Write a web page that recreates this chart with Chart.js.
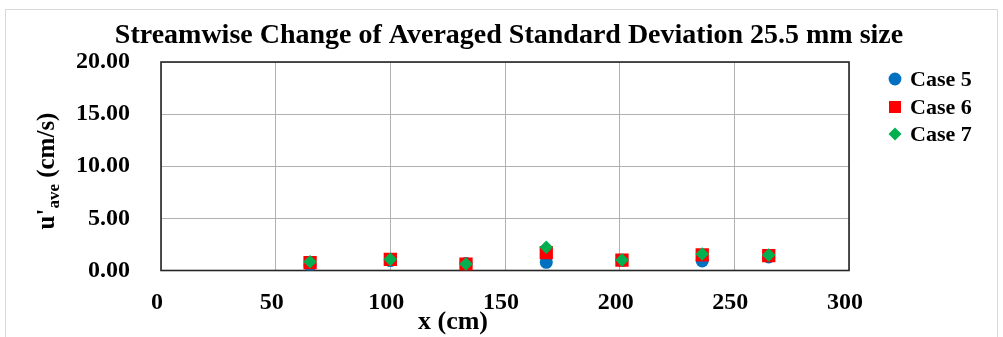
<!DOCTYPE html>
<html>
<head>
<meta charset="utf-8">
<script src="https://cdn.jsdelivr.net/npm/chart.js@4.4.1/dist/chart.umd.min.js"></script>
<style>
  html, body { margin: 0; padding: 0; background: #ffffff; }
  #wrap { width: 1003px; height: 337px; }
</style>
</head>
<body>
<div id="wrap"><canvas id="c" width="1003" height="337"></canvas></div>
<script>
// Streamwise position of each measuring station (cm)
const xPositions = [65, 100, 133, 168, 201, 236, 265];
// Averaged standard deviation u'ave (cm/s) per case
const case5 = [0.50, 0.95, 0.68, 0.78, 0.98, 0.91, 1.30];
const case6 = [0.75, 1.07, 0.62, 1.71, 1.00, 1.49, 1.42];
const case7 = [0.84, 1.07, 0.62, 2.23, 1.00, 1.58, 1.49];
const seriesNames = ['Case 5', 'Case 6', 'Case 7'];
const xTickValues = [0, 50, 100, 150, 200, 250, 300];
const yTickValues = [0, 5, 10, 15, 20];
const chartTitle = 'Streamwise Change of Averaged Standard Deviation 25.5 mm size';

const SERIF = '"Liberation Serif", "Times New Roman", serif';
const colors = ['#0070C0', '#FF0000', '#00B050'];
const styles = ['circle', 'rect', 'rectRot'];
const radii = [6.5, 9.4, 6.8];

const toPoints = (ys) => xPositions.map((x, i) => ({ x: x, y: ys[i] }));
const seriesValues = [case5, case6, case7];

const datasets = seriesValues.map((vals, i) => ({
  label: seriesNames[i],
  data: toPoints(vals),
  showLine: false,
  pointStyle: styles[i],
  pointRadius: radii[i],
  pointHoverRadius: radii[i],
  pointBackgroundColor: colors[i],
  pointBorderColor: colors[i],
  pointBorderWidth: 0,
  order: 3 - i
}));

// Chart title, area outline, outer frame, axis titles and legend
const decor = {
  id: 'decor',
  beforeDraw(chart) {
    const ctx = chart.ctx;
    ctx.save();
    ctx.fillStyle = '#ffffff';
    ctx.fillRect(0, 0, chart.width, chart.height);
    ctx.strokeStyle = '#d9d9d9';
    ctx.lineWidth = 1;
    ctx.beginPath();
    ctx.moveTo(5.5, 340);
    ctx.lineTo(5.5, 9.5);
    ctx.lineTo(997.5, 9.5);
    ctx.lineTo(997.5, 340);
    ctx.stroke();
    ctx.restore();
  },
  beforeDatasetsDraw(chart) {
    const ctx = chart.ctx;
    const a = chart.chartArea;
    ctx.save();
    ctx.strokeStyle = '#262626';
    ctx.lineWidth = 1.6;
    ctx.strokeRect(a.left, a.top, a.right - a.left, a.bottom - a.top);
    ctx.restore();
  },
  afterDraw(chart) {
    const ctx = chart.ctx;
    ctx.save();
    ctx.fillStyle = '#000000';

    // chart title
    ctx.font = 'bold 28px ' + SERIF;
    ctx.textAlign = 'center';
    ctx.textBaseline = 'middle';
    ctx.fillText(chartTitle, 509, 36);

    // x axis title
    ctx.font = 'bold 26px ' + SERIF;
    ctx.fillText('x (cm)', 453, 322);

    // y axis title with subscript
    ctx.translate(54, 171);
    ctx.rotate(-Math.PI / 2);
    const mainFont = 'bold 25px ' + SERIF;
    const subFont = 'bold 17px ' + SERIF;
    ctx.textAlign = 'left';
    ctx.textBaseline = 'alphabetic';
    ctx.font = mainFont;
    const wU = ctx.measureText("u'").width;
    const wRest = ctx.measureText(' (cm/s)').width;
    ctx.font = subFont;
    const wSub = ctx.measureText('ave').width;
    const x0 = -(wU + wSub + wRest) / 2;
    ctx.font = mainFont;
    ctx.fillText("u'", x0, 0);
    ctx.font = subFont;
    ctx.fillText('ave', x0 + wU, 5);
    ctx.font = mainFont;
    ctx.fillText(' (cm/s)', x0 + wU + wSub, 0);
    ctx.setTransform(1, 0, 0, 1, 0, 0);

    // legend
    const rows = [79, 107, 134];
    const mx = 895;
    ctx.font = 'bold 22px ' + SERIF;
    ctx.textBaseline = 'middle';
    ctx.textAlign = 'left';
    seriesNames.forEach((name, i) => {
      const y = rows[i];
      ctx.fillStyle = colors[i];
      ctx.beginPath();
      if (styles[i] === 'circle') {
        ctx.arc(mx, y, 6.4, 0, Math.PI * 2);
      } else if (styles[i] === 'rect') {
        ctx.rect(mx - 6, y - 6, 12, 12);
      } else {
        ctx.moveTo(mx - 6.5, y);
        ctx.lineTo(mx, y - 6.5);
        ctx.lineTo(mx + 6.5, y);
        ctx.lineTo(mx, y + 6.5);
        ctx.closePath();
      }
      ctx.fill();
      ctx.fillStyle = '#000000';
      ctx.fillText(name, 910, y + 1);
    });
    ctx.restore();
  }
};

new Chart(document.getElementById('c'), {
  type: 'scatter',
  data: { datasets: datasets },
  plugins: [decor],
  options: {
    responsive: false,
    animation: false,
    events: [],
    layout: { padding: { left: 0, right: 154, top: 62, bottom: 0 } },
    plugins: {
      legend: { display: false },
      tooltip: { enabled: false },
      title: { display: false }
    },
    scales: {
      x: {
        type: 'linear',
        min: xTickValues[0],
        max: xTickValues[xTickValues.length - 1],
        afterBuildTicks(scale) { scale.ticks = xTickValues.map(v => ({ value: v })); },
        afterFit(scale) { scale.height = 66.5; },
        grid: { color: '#b0b0b0', lineWidth: 1, drawTicks: false },
        border: { display: false },
        ticks: {
          color: '#000000',
          font: { family: SERIF, size: 24, weight: 'bold' },
          padding: 18,
          labelOffset: -4,
          maxRotation: 0
        }
      },
      y: {
        type: 'linear',
        min: yTickValues[0],
        max: yTickValues[yTickValues.length - 1],
        afterBuildTicks(scale) { scale.ticks = yTickValues.map(v => ({ value: v })); },
        afterFit(scale) { scale.width = 161; },
        grid: { color: '#b0b0b0', lineWidth: 1, drawTicks: false },
        border: { display: false },
        ticks: {
          color: '#000000',
          font: { family: SERIF, size: 24, weight: 'bold' },
          padding: 31,
          callback: (v) => Number(v).toFixed(2)
        }
      }
    }
  }
});
</script>
</body>
</html>
